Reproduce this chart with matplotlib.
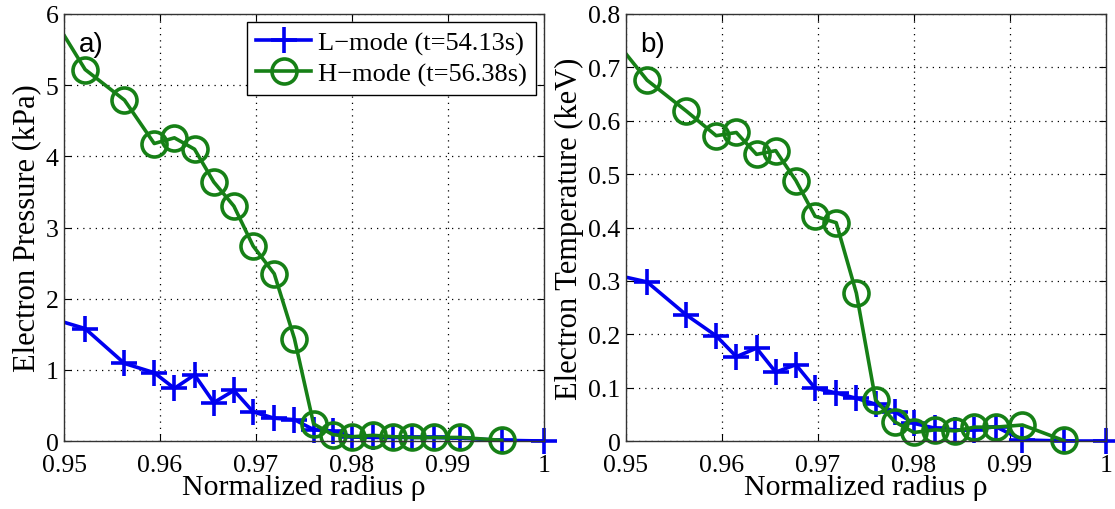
import matplotlib
matplotlib.use('Agg')
import matplotlib.pyplot as plt
from matplotlib.lines import Line2D

# normalized radius of the measurement channels (first one sits just off the axis)
rho_l = [0.9480, 0.9522, 0.9563, 0.9594, 0.9615, 0.9636, 0.9656, 0.9677, 0.9697,
         0.9719, 0.9740, 0.9760, 0.9780, 0.9800, 0.9822, 0.9843, 0.9863, 0.9885,
         0.9913, 0.9956, 1.0000]
rho_h = rho_l[:-1]

# a) electron pressure (kPa)
pe_l = [1.75, 1.58, 1.09, 0.96, 0.74, 0.93, 0.54, 0.71, 0.41, 0.32, 0.30, 0.16,
        0.14, 0.06, 0.05, 0.05, 0.05, 0.05, 0.04, 0.01, 0.0]
pe_h = [6.14, 5.22, 4.79, 4.18, 4.26, 4.10, 3.64, 3.30, 2.74, 2.35, 1.44, 0.24,
        0.09, 0.06, 0.08, 0.06, 0.05, 0.05, 0.05, 0.01]

# b) electron temperature (keV)
te_l = [0.315, 0.298, 0.236, 0.197, 0.158, 0.174, 0.129, 0.143, 0.099, 0.090,
        0.080, 0.069, 0.055, 0.033, 0.024, 0.021, 0.021, 0.027, 0.002, 0.0, 0.0]
te_h = [0.770, 0.676, 0.618, 0.572, 0.578, 0.537, 0.544, 0.488, 0.421, 0.409,
        0.277, 0.077, 0.036, 0.016, 0.021, 0.019, 0.026, 0.026, 0.030, 0.001]

x_ticks = [0.95, 0.96, 0.97, 0.98, 0.99, 1.0]
x_labels = ['0.95', '0.96', '0.97', '0.98', '0.99', '1']
labels = ['L\u2212mode (t=54.13s)', 'H\u2212mode (t=56.38s)']

BLUE = '#0000f0'
GREEN = '#168016'
SERIF = 'Liberation Serif'
SANS = 'Liberation Sans'

plt.rcParams['font.family'] = SERIF

L_STYLE = dict(color=BLUE, lw=2.6, marker='+', ms=19, mew=2.6)
H_STYLE = dict(color=GREEN, lw=2.6, marker='o', ms=18, mew=2.6, mfc='none')


def style_axis(ax, ylim, yticks, ylabel, tag):
    ax.set_xlim(0.95, 1.0)
    ax.set_ylim(*ylim)
    ax.set_xticks(x_ticks)
    ax.set_xticklabels(x_labels)
    ax.set_yticks(yticks)
    ax.tick_params(direction='in', length=5, width=0.8, labelsize=18.5,
                   top=True, right=True)
    ax.tick_params(axis='x', pad=9)
    ax.tick_params(axis='y', pad=4)
    ax.grid(True, color='black', linestyle=(0, (1, 4)), linewidth=0.9)
    for sp in ax.spines.values():
        sp.set_linewidth(1.0)
        sp.set_color('#333333')
    ax.set_xlabel('Normalized radius ρ', fontsize=21.5, labelpad=-1)
    ax.set_ylabel(ylabel, fontsize=22, labelpad=3)
    ax.text(0.03, 0.96, tag, transform=ax.transAxes, ha='left', va='top',
            fontsize=20, family=SANS)


def draw(ax, yl, yh):
    # lines clipped to the box, markers drawn whole like the original
    ax.plot(rho_l, yl, color=BLUE, lw=2.6)
    ax.plot(rho_l[1:], yl[1:], ls='none', clip_on=False,
            **{k: v for k, v in L_STYLE.items() if k != 'lw'})
    ax.plot(rho_h, yh, color=GREEN, lw=2.6)
    ax.plot(rho_h[1:], yh[1:], ls='none', clip_on=False,
            **{k: v for k, v in H_STYLE.items() if k != 'lw'})


fig = plt.figure(figsize=(11.15, 5.10), dpi=100)
ax1 = fig.add_axes([0.0574, 0.1333, 0.4305, 0.8373])
ax2 = fig.add_axes([0.5614, 0.1333, 0.4305, 0.8373])

draw(ax1, pe_l, pe_h)
style_axis(ax1, (0, 6), [0, 1, 2, 3, 4, 5, 6], 'Electron Pressure (kPa)', 'a)')
handles = [Line2D([], [], **L_STYLE), Line2D([], [], **H_STYLE)]
leg = ax1.legend(handles, labels, loc='upper right', fontsize=19, frameon=True,
                 fancybox=False, edgecolor='black', borderpad=0.35,
                 handlelength=2.1, handletextpad=0.25, labelspacing=0.25,
                 borderaxespad=0.3, framealpha=1)
leg.get_frame().set_linewidth(1.0)

draw(ax2, te_l, te_h)
style_axis(ax2, (0, 0.8), [0, 0.1, 0.2, 0.3, 0.4, 0.5, 0.6, 0.7, 0.8],
           'Electron Temperature (keV)', 'b)')
ax2.set_yticklabels(['0', '0.1', '0.2', '0.3', '0.4', '0.5', '0.6', '0.7', '0.8'])

fig.savefig('out.png', dpi=100)
